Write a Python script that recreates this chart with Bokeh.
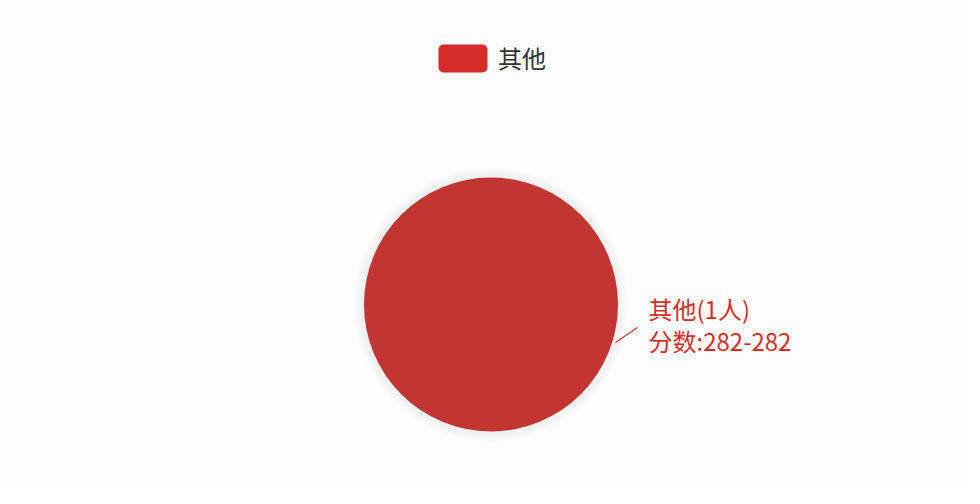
from bokeh.plotting import figure
from bokeh.models import Range1d, ColumnDataSource
from bokeh.core.properties import value
from bokeh.embed import file_html
from bokeh.resources import INLINE
import numpy as np

# data
categories = ["其他"]
counts = [1]
score_min = [282]
score_max = [282]
colors = ["#c23531"]

W, H = 964, 488
FONT = "Noto Sans CJK SC"

p = figure(width=W, height=H, output_backend="svg", toolbar_location=None,
           x_range=Range1d(0, W), y_range=Range1d(H, 0), min_border=0)
p.axis.visible = False
p.grid.visible = False
p.outline_line_color = None
p.background_fill_color = "#fdfdfd"
p.border_fill_color = "#fdfdfd"

cx, cy, r = 490.5, 304, 127

# pie angles from the counts
total = sum(counts)
ends = np.cumsum(counts) / total * 2 * np.pi
starts = np.concatenate([[0], ends[:-1]])
src = ColumnDataSource(dict(start=starts, end=ends, color=colors, name=categories))

# soft shadow around the pie
for k in range(1, 8):
    p.circle(x=cx, y=cy, radius=r + k * 1.5, fill_color="#999999",
             fill_alpha=0.015, line_color=None)

p.wedge(x=cx, y=cy, radius=r, start_angle="start", end_angle="end",
        fill_color="color", line_color=None, source=src)

# label with leader line
lbl_color = "#d52f2a"
ax, ay = cx + 124.5, cy + 38
bx, by = cx + 146.5, cy + 23
p.line([ax, bx], [ay, by], line_color=lbl_color, line_width=1.2)
labels = [f"{categories[0]}({counts[0]}人)", f"分数:{score_min[0]}-{score_max[0]}"]
p.text(x=[bx + 11, bx + 11], y=[cy + 4, cy + 36], text=labels,
       text_font=value(FONT), text_font_size="24px", text_color=lbl_color,
       text_baseline="middle", text_align="left")

# legend
lx, ly = 462.5, 58
p.rect(x=lx, y=ly, width=49, height=28, fill_color="#d52c2a",
       line_color=None, border_radius=5)
p.text(x=[lx + 35], y=[ly - 1], text=[categories[0]], text_font=value(FONT),
       text_font_size="24px", text_color="#333333", text_baseline="middle",
       text_align="left")

open("out.html", "w").write(file_html(p, INLINE))
